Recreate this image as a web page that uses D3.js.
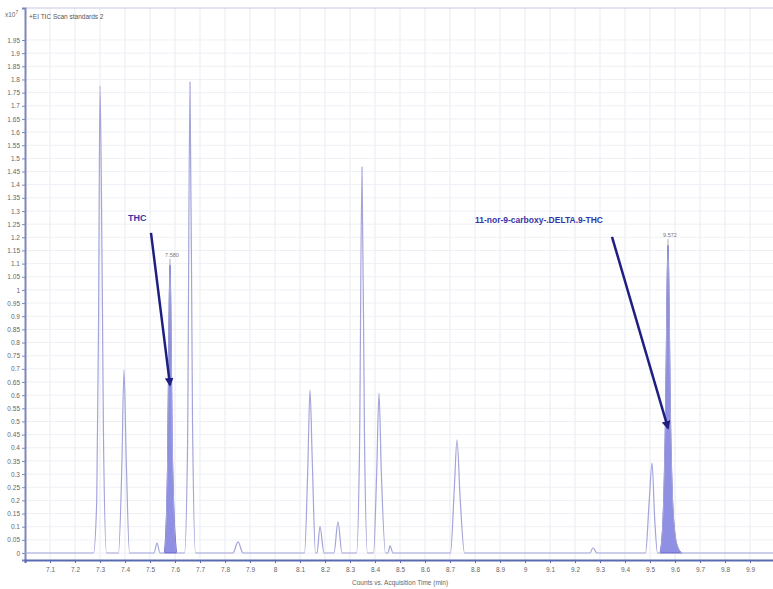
<!DOCTYPE html>
<html>
<head>
<meta charset="utf-8">
<script src="https://cdn.jsdelivr.net/npm/d3@7"></script>
<style>
  body { margin: 0; background: #fff; }
  text { font-family: "Liberation Sans", Arial, sans-serif; }
</style>
</head>
<body>
<div id="chromatogram"></div>
<script>
// tick labels
var timeTicks = [7.1, 7.2, 7.3, 7.4, 7.5, 7.6, 7.7, 7.8, 7.9, 8, 8.1, 8.2, 8.3, 8.4, 8.5,
                 8.6, 8.7, 8.8, 8.9, 9, 9.1, 9.2, 9.3, 9.4, 9.5, 9.6, 9.7, 9.8, 9.9];
var countTicks = [0, 0.05, 0.1, 0.15, 0.2, 0.25, 0.3, 0.35, 0.4, 0.45, 0.5, 0.55, 0.6, 0.65,
                  0.7, 0.75, 0.8, 0.85, 0.9, 0.95, 1, 1.05, 1.1, 1.15, 1.2, 1.25, 1.3, 1.35,
                  1.4, 1.45, 1.5, 1.55, 1.6, 1.65, 1.7, 1.75, 1.8, 1.85, 1.9, 1.95];

// TIC trace (time in min, counts x10^7)
var traceTime = [7.0,
  7.274, 7.287, 7.294, 7.300, 7.306, 7.310, 7.314, 7.326,
  7.374, 7.387, 7.396, 7.405, 7.418,
  7.516, 7.528, 7.540,
  7.558, 7.570, 7.580, 7.590, 7.606,
  7.638, 7.650, 7.660, 7.670, 7.682,
  7.832, 7.852, 7.872,
  8.118, 8.131, 8.140, 8.149, 8.162,
  8.168, 8.180, 8.196,
  8.236, 8.252, 8.268,
  8.326, 8.338, 8.348, 8.358, 8.370,
  8.394, 8.407, 8.416, 8.425, 8.442,
  8.452, 8.460, 8.472,
  8.702, 8.717, 8.728, 8.741, 8.758,
  9.260, 9.272, 9.288,
  9.482, 9.497, 9.508, 9.519, 9.530,
  9.540, 9.552, 9.562, 9.572, 9.582, 9.592, 9.608, 9.628,
  10.0];
var traceCounts = [0,
  0, 0.20, 0.85, 1.775, 1.34, 0.90, 0.43, 0,
  0, 0.315, 0.696, 0.353, 0,
  0, 0.038, 0,
  0, 0.315, 1.095, 0.353, 0,
  0, 0.39, 1.79, 0.505, 0,
  0, 0.042, 0,
  0, 0.315, 0.62, 0.353, 0,
  0, 0.10, 0,
  0, 0.118, 0,
  0, 0.39, 1.467, 0.43, 0,
  0, 0.315, 0.608, 0.315, 0,
  0, 0.027, 0,
  0, 0.24, 0.43, 0.20, 0,
  0, 0.02, 0,
  0, 0.20, 0.342, 0.125, 0,
  0, 0.125, 0.505, 1.17, 0.505, 0.163, 0.03, 0,
  0];

// integrated peaks
var peakStart = [7.558, 9.54];
var peakEnd = [7.606, 9.628];
var peakRT = [7.58, 9.572];
var peakRTLabel = ["7.580", "9.572"];

// compound annotations
var compoundName = ["THC", "11-nor-9-carboxy-.DELTA.9-THC"];
var nameAt = [[7.412, 1.262], [8.80, 1.255]];
var arrowFrom = [[7.504, 1.217], [9.348, 1.202]];
var arrowTo = [[7.580, 0.639], [9.572, 0.475]];

var margin = {top: 8, right: 0, bottom: 29, left: 25},
    width = 750,
    height = 552;

var svg = d3.select("#chromatogram")
  .append("svg")
    .attr("width", 773)
    .attr("height", 589);

var g = svg.append("g")
    .attr("transform", "translate(" + margin.left + "," + margin.top + ")");

var x = d3.scaleLinear()
  .domain([7.0, 10.0])
  .range([0, width]);

var y = d3.scaleLinear()
  .domain([-0.0266, 2.0716])
  .range([height, 0]);

var pts = traceTime.map(function (t, i) { return {t: t, v: traceCounts[i]}; });

// grid
g.append("g")
  .selectAll("line")
  .data(timeTicks)
  .enter()
  .append("line")
    .attr("x1", function (d) { return x(d); })
    .attr("x2", function (d) { return x(d); })
    .attr("y1", 0)
    .attr("y2", height)
    .style("stroke", "#e9ebf3");

g.append("g")
  .selectAll("line")
  .data(countTicks)
  .enter()
  .append("line")
    .attr("x1", 0)
    .attr("x2", width)
    .attr("y1", function (d) { return y(d); })
    .attr("y2", function (d) { return y(d); })
    .style("stroke", "#eef0f6");

// top border
g.append("line")
  .attr("x1", 0).attr("x2", width)
  .attr("y1", 0).attr("y2", 0)
  .style("stroke", "#c6cbe0");

// Y axis
var yAxis = g.append("g")
  .call(d3.axisLeft(y).tickValues(countTicks).tickSize(3).tickPadding(2)
    .tickFormat(function (d) { return String(+d.toFixed(2)); }));
yAxis.select(".domain").style("stroke", "#7e88b8").style("stroke-width", 2);
yAxis.selectAll(".tick line").style("stroke", "#7e88b8");
yAxis.selectAll("text").style("font-size", "6.5px").style("fill", "#666");

// X axis
var xAxis = g.append("g")
  .attr("transform", "translate(0," + height + ")")
  .call(d3.axisBottom(x).tickValues(timeTicks).tickSize(3).tickPadding(4)
    .tickFormat(function (d) { return String(+d.toFixed(1)); }));
xAxis.select(".domain").style("stroke", "#5a6ab2").style("stroke-width", 2);
xAxis.selectAll(".tick line").style("stroke", "#5a6ab2");
xAxis.selectAll("text").style("font-size", "6.5px").style("fill", "#666");

// axis title and header
g.append("text")
  .attr("text-anchor", "middle")
  .attr("x", x(8.5))
  .attr("y", height + 25)
  .style("font-size", "6.5px")
  .style("fill", "#666")
  .text("Counts vs. Acquisition Time (min)");

svg.append("text")
  .attr("x", 5)
  .attr("y", 17)
  .style("font-size", "6.5px")
  .style("fill", "#666")
  .text("x10")
  .append("tspan")
    .attr("dy", -3)
    .style("font-size", "5px")
    .text("7");

g.append("text")
  .attr("x", 4)
  .attr("y", 11)
  .style("font-size", "6.5px")
  .style("fill", "#555")
  .text("+EI TIC Scan standards 2");

// filled peaks
var area = d3.area()
  .x(function (d) { return x(d.t); })
  .y0(y(0))
  .y1(function (d) { return y(d.v); })
  .curve(d3.curveMonotoneX);

peakStart.forEach(function (s, i) {
  var sub = pts.filter(function (d) { return d.t >= s && d.t <= peakEnd[i]; });
  g.append("path")
    .datum(sub)
    .attr("d", area)
    .style("fill", "#8f8fe4")
    .style("stroke", "#6262c8")
    .style("stroke-width", 1);
});

// trace
g.append("path")
  .datum(pts)
  .attr("d", d3.line()
    .x(function (d) { return x(d.t); })
    .y(function (d) { return y(d.v); })
    .curve(d3.curveMonotoneX))
  .style("fill", "none")
  .style("stroke", "#a4a4da")
  .style("stroke-width", 1.2);

// RT labels over the integrated peaks
peakRT.forEach(function (t, i) {
  var top = traceCounts[traceTime.indexOf(t)];
  g.append("line")
    .attr("x1", x(t)).attr("x2", x(t))
    .attr("y1", y(top) - 6).attr("y2", y(top))
    .style("stroke", "#9a9a9a")
    .style("stroke-width", 0.8);
  g.append("text")
    .attr("text-anchor", "middle")
    .attr("x", x(t) + 2)
    .attr("y", y(top) - 8)
    .style("font-size", "5.5px")
    .style("fill", "#777")
    .text(peakRTLabel[i]);
});

// arrows + names
svg.append("defs").append("marker")
    .attr("id", "head")
    .attr("viewBox", "0 0 10 10")
    .attr("refX", 8).attr("refY", 5)
    .attr("markerWidth", 3.5).attr("markerHeight", 3.5)
    .attr("orient", "auto")
  .append("path")
    .attr("d", "M0,0L10,5L0,10z")
    .style("fill", "#1f1f82");

compoundName.forEach(function (name, i) {
  g.append("line")
    .attr("x1", x(arrowFrom[i][0])).attr("y1", y(arrowFrom[i][1]))
    .attr("x2", x(arrowTo[i][0])).attr("y2", y(arrowTo[i][1]))
    .attr("marker-end", "url(#head)")
    .style("stroke", "#1f1f82")
    .style("stroke-width", 2.5);

  var lbl = g.append("text")
    .attr("x", x(nameAt[i][0]))
    .attr("y", y(nameAt[i][1]))
    .style("font-size", "9px")
    .style("font-weight", "bold")
    .style("fill", "#3535a8")
    .text(name);
  if (i == 1) lbl.attr("textLength", 128).attr("lengthAdjust", "spacingAndGlyphs");
});
</script>
</body>
</html>
